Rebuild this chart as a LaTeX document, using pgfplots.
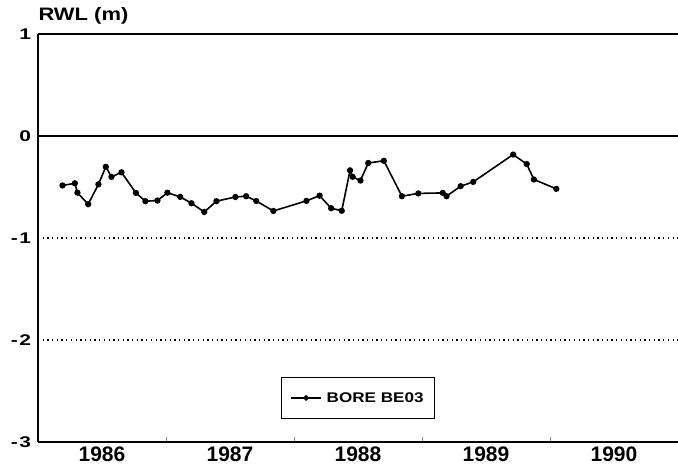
\documentclass[border=0pt]{standalone}
\usepackage{fontspec}
\setmainfont{Liberation Sans}
\newfontfamily\widefont[FakeStretch=1.22]{Liberation Sans}
\newfontfamily\widerfont[FakeStretch=1.35]{Liberation Sans}
\usepackage{pgfplots}
\pgfplotsset{compat=1.18}

\begin{document}
\begin{tikzpicture}
\begin{axis}[
    scale only axis,
    width=640pt, height=408pt,
    xmin=1986, xmax=1991,
    ymin=-3, ymax=1,
    axis lines=left,
    axis line style={-, line width=1.3pt},
    xtick={1987,1988,1989,1990},
    xticklabels={},
    major tick length=5pt,
    xtick align=inside,
    xtick style={line width=1pt},
    extra x ticks={1986.5,1987.5,1988.5,1989.5,1990.5,1991},
    extra x tick labels={1986,1987,1988,1989,1990,},
    extra x tick style={major tick length=0pt, xmajorgrids=false,
        ticklabel style={font=\fontsize{21}{24}\selectfont\bfseries, yshift=-1pt}},
    ytick={-3,-2,-1,0,1},
    yticklabels={-\kern1.5pt3,-\kern1.5pt2,-\kern1.5pt1,0,1},
    ytick style={draw=none},
    ymajorgrids,
    grid style={dash pattern=on 1.3pt off 3.4pt, line width=1.1pt, black},
    yticklabel style={font=\widerfont\fontsize{15.5}{18}\selectfont\bfseries, xshift=-1pt},
    /pgf/number format/assume math mode=true,
    ylabel={RWL (m)},
    every axis y label/.style={at={(rel axis cs:0,1)}, anchor=south west,
        xshift=-3pt, yshift=6pt, font=\widefont\fontsize{18}{21}\selectfont\bfseries},
    legend style={at={(0.5,0.108)}, anchor=center, draw=black, line width=1.5pt,
        inner xsep=9pt, inner ysep=13pt,
        font=\widefont\fontsize{14}{16}\selectfont\bfseries},
    legend image code/.code={
        \draw[line width=1.3pt] (0pt,0pt) -- (30pt,0pt);
        \fill (15pt,0pt) circle (1.9pt);
    },
]
% solid reference lines at 0 and 1, faint right frame
\addplot[black, line width=1.2pt, forget plot] coordinates {(1986,0) (1991,0)};
\addplot[black, line width=1.2pt, forget plot] coordinates {(1986,1) (1991,1)};
\addplot[gray!40, line width=0.6pt, forget plot] coordinates {(1991,-3) (1991,1)};

\addplot[black, line width=1.6pt, mark=*, mark size=2.3pt] coordinates {
(1986.191,-0.485) (1986.288,-0.464) (1986.308,-0.556) (1986.392,-0.669)
(1986.472,-0.474) (1986.530,-0.302) (1986.574,-0.401) (1986.652,-0.356)
(1986.765,-0.558) (1986.839,-0.639) (1986.933,-0.633) (1987.011,-0.556)
(1987.111,-0.597) (1987.199,-0.659) (1987.299,-0.745) (1987.394,-0.639)
(1987.542,-0.598) (1987.626,-0.590) (1987.705,-0.637) (1987.839,-0.735)
(1988.097,-0.636) (1988.200,-0.585) (1988.290,-0.708) (1988.373,-0.733)
(1988.438,-0.337) (1988.458,-0.400) (1988.519,-0.437) (1988.580,-0.265)
(1988.702,-0.243) (1988.843,-0.590) (1988.971,-0.563) (1989.162,-0.558)
(1989.192,-0.590) (1989.302,-0.492) (1989.400,-0.450) (1989.712,-0.182)
(1989.818,-0.275) (1989.874,-0.426) (1990.049,-0.518)
};
\addlegendentry{\kern3pt BORE BE03}
\end{axis}
\pgfresetboundingbox
\path (current axis.south west) ++(-38pt,-31pt) rectangle ++(678pt,473pt);
\end{tikzpicture}
\end{document}
